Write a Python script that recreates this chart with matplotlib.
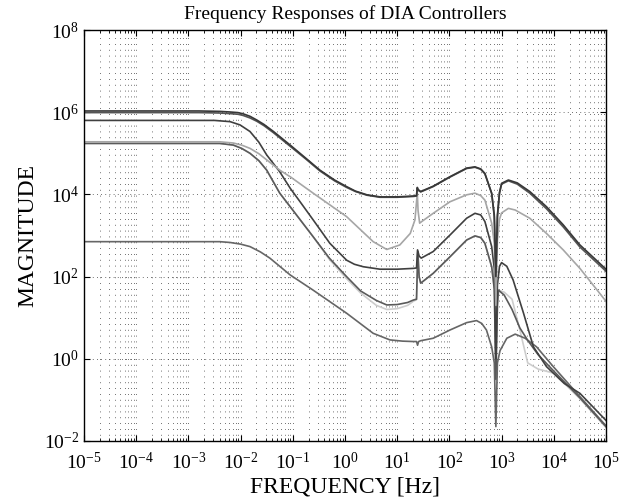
import matplotlib
matplotlib.use("Agg")
import matplotlib.pyplot as plt
import numpy as np
from matplotlib.ticker import LogLocator, NullLocator, NullFormatter


# values: log10(frequency in Hz) and log10(magnitude)
A_LF = [-5, -2.8, -2.4, -2.2, -2.05, -1.95, -1.82, -1.69, -1.55, -1.37, -1.05, -0.75, -0.48,
        -0.2, 0.03, 0.2, 0.42, 0.67, 1.0, 1.31, 1.37, 1.385, 1.40, 1.45, 1.69, 2.01, 2.33,
        2.49, 2.60, 2.68, 2.81, 2.86, 2.89, 2.92, 2.96, 3.0, 3.13, 3.3, 3.54, 3.86, 4.18,
        4.5, 5.0]
A_LM = [6.03, 6.03, 6.02, 6.005, 5.99, 5.96, 5.90, 5.81, 5.70, 5.53, 5.20, 4.88, 4.59,
        4.35, 4.19, 4.08, 3.99, 3.94, 3.94, 3.96, 3.97, 4.17, 4.12, 4.07, 4.20, 4.43, 4.64,
        4.67, 4.62, 4.51, 4.03, 3.5, 2.0, 3.5, 4.05, 4.27, 4.35, 4.28, 4.07, 3.70, 3.26,
        2.77, 2.18]
B_LM = [5.99, 5.99, 5.98, 5.965, 5.95, 5.92, 5.86, 5.78, 5.67, 5.50, 5.17, 4.86, 4.57,
        4.33, 4.17, 4.07, 3.98, 3.93, 3.93, 3.95, 3.96, 4.15, 4.10, 4.06, 4.19, 4.42, 4.63,
        4.66, 4.61, 4.50, 4.02, 3.45, 2.1, 3.45, 4.03, 4.25, 4.33, 4.25, 4.03, 3.65, 3.21,
        2.72, 2.13]

C_LF = [-5, -2.5, -2.2, -2.01, -1.82, -1.65, -1.5, -1.25, -1.05, -0.86, -0.61, -0.29, 0.03,
        0.18, 0.35, 0.67, 1.0, 1.31, 1.37, 1.39, 1.42, 1.46, 1.69, 2.01, 2.33, 2.49, 2.60,
        2.68, 2.81, 2.86, 2.89, 2.92, 2.96, 3.0, 3.1, 3.22, 3.42, 3.61, 3.86, 4.2, 4.5, 5.0]
C_LM = [5.80, 5.80, 5.77, 5.69, 5.53, 5.27, 4.96, 4.55, 4.15, 3.82, 3.38, 2.81, 2.40,
        2.30, 2.24, 2.18, 2.18, 2.20, 2.21, 2.65, 2.50, 2.45, 2.61, 3.01, 3.42, 3.54, 3.50,
        3.34, 2.73, 2.2, 0.0, 1.8, 2.25, 2.34, 2.25, 1.92, 1.11, 0.29, -0.19, -0.6, -0.84,
        -1.50]

D_LF = [-5, -2.4, -2.14, -1.98, -1.82, -1.65, -1.5, -1.25, -1.05, -0.61, 0.03, 0.54, 0.80,
        1.05, 1.25, 1.34, 1.385, 1.40, 1.43, 1.47, 1.69, 2.01, 2.33, 2.49, 2.60, 2.68, 2.81,
        2.86, 2.89, 2.92, 2.96, 3.0, 3.13, 3.26, 3.54, 3.86, 4.18, 4.5, 5.0]
D_LM = [5.28, 5.28, 5.25, 5.20, 5.12, 4.99, 4.84, 4.59, 4.43, 4.03, 3.46, 2.85, 2.66,
        2.77, 3.05, 3.38, 4.03, 3.6, 3.30, 3.34, 3.54, 3.82, 3.99, 4.03, 3.97, 3.86, 3.30,
        2.8, 1.3, 2.9, 3.4, 3.55, 3.66, 3.62, 3.42, 3.05, 2.65, 2.20, 1.40]

E_LF = [-5, -2.4, -2.14, -1.98, -1.82, -1.65, -1.5, -1.25, -1.05, -0.61, -0.3, 0.03, 0.3,
        0.6, 0.8, 1.0, 1.2, 1.31, 1.37, 1.395, 1.42, 1.45, 1.69, 2.01, 2.33, 2.49, 2.60,
        2.68, 2.81, 2.86, 2.89, 2.92, 2.94, 3.05, 3.20, 3.35, 3.5, 3.7, 4.0, 4.5, 5.0]
E_LM = [5.24, 5.24, 5.20, 5.12, 5.00, 4.82, 4.59, 4.03, 3.70, 2.97, 2.45, 2.0, 1.65,
        1.42, 1.31, 1.32, 1.37, 1.43, 1.45, 2.61, 2.0, 1.84, 2.08, 2.48, 2.89, 2.99, 2.95,
        2.81, 2.24, 1.7, -0.5, 1.3, 1.67, 1.55, 1.2, 0.75, 0.45, 0.1, -0.3, -0.95, -1.65]
E2_LM = [5.24, 5.24, 5.20, 5.12, 5.00, 4.82, 4.59, 4.03, 3.70, 2.97, 2.42, 1.95, 1.60,
         1.30, 1.20, 1.22, 1.30, 1.40, 1.44, 2.61, 2.0, 1.84, 2.08, 2.48, 2.89, 2.99, 2.95,
         2.81, 2.24, 1.7, -0.3, 1.3, 1.67, 1.62, 1.45, 0.7, -0.1, -0.25, -0.35, -0.97, -1.67]

F_LF = [-5, -2.4, -2.2, -2.0, -1.82, -1.62, -1.44, -1.05, -0.61, 0.03, 0.54, 0.86, 1.1,
        1.31, 1.37, 1.39, 1.41, 1.45, 1.69, 2.01, 2.33, 2.52, 2.62, 2.71, 2.81, 2.86, 2.89,
        2.92, 2.97, 3.10, 3.26, 3.45, 3.67, 3.99, 4.5, 5.0]
F_LM = [2.85, 2.85, 2.83, 2.79, 2.73, 2.60, 2.45, 2.04, 1.67, 1.11, 0.62, 0.46, 0.43,
        0.42, 0.42, 0.33, 0.42, 0.44, 0.50, 0.70, 0.88, 0.93, 0.86, 0.70, 0.29, -0.1, -1.65,
        -0.1, 0.2, 0.5, 0.6, 0.5, 0.29, -0.19, -0.92, -1.63]

CURVES = [
    (E_LF, E2_LM, "#cdcdcd"),
    (F_LF, F_LM, "#666666"),
    (E_LF, E_LM, "#5a5a5a"),
    (C_LF, C_LM, "#404040"),
    (D_LF, D_LM, "#a6a6a6"),
    (A_LF, B_LM, "#555555"),
    (A_LF, A_LM, "#383838"),
]

plt.rcParams.update({
    "font.family": "serif",
    "font.serif": ["Liberation Serif", "DejaVu Serif"],
    "mathtext.fontset": "custom",
    "mathtext.rm": "Liberation Serif",
    "mathtext.it": "Liberation Serif:italic",
})

fig = plt.figure(figsize=(6.43, 4.99), dpi=100)
ax = fig.add_axes([84 / 643, 58 / 499, 522 / 643, 411 / 499])

for lf, lm, color in CURVES:
    ax.plot(10.0 ** np.array(lf), 10.0 ** np.array(lm), color=color, lw=1.2)

ax.set_xscale("log")
ax.set_yscale("log")
ax.set_xlim(1e-5, 1e5)
ax.set_ylim(1e-2, 1e8)
ax.set_xticks(10.0 ** np.arange(-5, 6))
ax.xaxis.set_minor_locator(LogLocator(base=10, subs=np.arange(2, 10), numticks=200))
ax.xaxis.set_minor_formatter(NullFormatter())
ax.set_yticks(10.0 ** np.arange(-2, 9, 2))
ax.yaxis.set_minor_locator(NullLocator())

ax.grid(which="major", axis="x", color="0.25", lw=0.6, linestyle=(0, (1, 6)))
ax.grid(which="minor", axis="x", color="0.25", lw=0.6, linestyle=(0, (1, 6)))
ax.grid(which="major", axis="y", color="0.25", lw=0.6, linestyle=(0, (1, 4)))

ax.tick_params(which="both", direction="in", top=True, right=True, labelsize=14)
ax.tick_params(which="major", length=4, width=0.8)
ax.tick_params(which="minor", length=2.5, width=0.6)
ax.tick_params(axis="x", which="major", pad=8)
for s in ax.spines.values():
    s.set_linewidth(1.0)

ax.set_title("Frequency Responses of DIA Controllers", fontsize=14, pad=8)
ax.set_xlabel("FREQUENCY [Hz]", fontsize=17, labelpad=2)
ax.set_ylabel("MAGNITUDE", fontsize=17, labelpad=4)

fig.savefig("out.png", dpi=100)
